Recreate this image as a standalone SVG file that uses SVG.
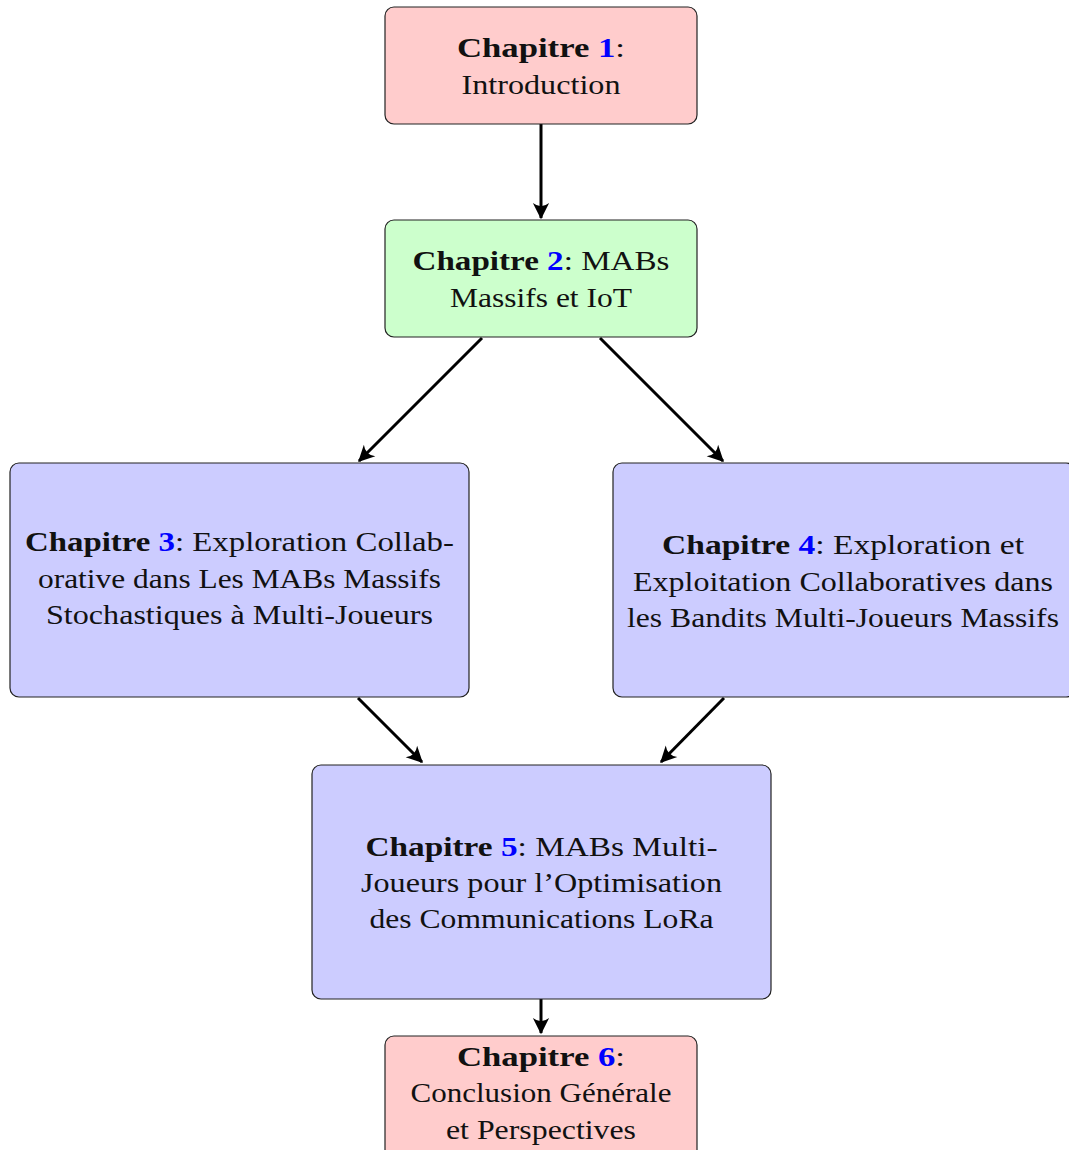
<svg xmlns="http://www.w3.org/2000/svg" width="1069" height="1150" viewBox="0 0 1069 1150">
<style>
.box{stroke:#222;stroke-width:1.2}
.red{fill:#ffcccc}.green{fill:#ccffcc}.blue{fill:#ccccff}
text{font-family:"Liberation Serif","Times New Roman",serif;font-size:28px;fill:#111;text-anchor:middle}
.b{font-weight:bold}.n{font-weight:bold;fill:#0000ff}
.edge{stroke:#000;stroke-width:3;fill:none;marker-end:url(#ah)}
</style>
<defs>
<marker id="ah" markerUnits="userSpaceOnUse" markerWidth="20" markerHeight="20" viewBox="-14 -8 16 16" refX="0" refY="0" orient="auto">
<path d="M1,0 L-12,-6.5 Q-7,0 -12,6.5 Z" fill="#000"/>
</marker>
</defs>
<g id="connectors">
<line class="edge" x1="541" y1="124" x2="541" y2="218"/>
<line class="edge" x1="482" y1="338" x2="359" y2="461"/>
<line class="edge" x1="600" y1="338" x2="723" y2="461"/>
<line class="edge" x1="358" y1="698" x2="422" y2="762"/>
<line class="edge" x1="724" y1="698" x2="661" y2="762"/>
<line class="edge" x1="541" y1="999" x2="541" y2="1033"/>
</g>
<g id="n1">
<rect class="box red" x="385" y="7" width="312" height="117" rx="9"/>
<text x="541" y="57" textLength="168" lengthAdjust="spacingAndGlyphs"><tspan class="b">Chapitre  </tspan><tspan class="n">1</tspan>:</text>
<text x="541" y="94" textLength="159" lengthAdjust="spacingAndGlyphs">Introduction</text>
</g>
<g id="n2">
<rect class="box green" x="385" y="220" width="312" height="117" rx="9"/>
<text x="541" y="270" textLength="257" lengthAdjust="spacingAndGlyphs"><tspan class="b">Chapitre </tspan><tspan class="n">2</tspan>: MABs</text>
<text x="541" y="307" textLength="182" lengthAdjust="spacingAndGlyphs">Massifs et IoT</text>
</g>
<g id="n3">
<rect class="box blue" x="10" y="463" width="459" height="234" rx="9"/>
<text x="239.5" y="551" textLength="429" lengthAdjust="spacingAndGlyphs"><tspan class="b">Chapitre </tspan><tspan class="n">3</tspan>: Exploration Collab-</text>
<text x="239.5" y="588" textLength="403" lengthAdjust="spacingAndGlyphs">orative dans Les MABs Massifs</text>
<text x="239.5" y="624" textLength="387" lengthAdjust="spacingAndGlyphs">Stochastiques à Multi-Joueurs</text>
</g>
<g id="n4">
<rect class="box blue" x="613" y="463" width="462" height="234" rx="9"/>
<text x="843" y="554" textLength="362" lengthAdjust="spacingAndGlyphs"><tspan class="b">Chapitre </tspan><tspan class="n">4</tspan>: Exploration et</text>
<text x="843" y="591" textLength="420" lengthAdjust="spacingAndGlyphs">Exploitation Collaboratives dans</text>
<text x="843" y="627" textLength="432" lengthAdjust="spacingAndGlyphs">les Bandits Multi-Joueurs Massifs</text>
</g>
<g id="n5">
<rect class="box blue" x="312" y="765" width="459" height="234" rx="9"/>
<text x="541.5" y="856" textLength="352" lengthAdjust="spacingAndGlyphs"><tspan class="b">Chapitre </tspan><tspan class="n">5</tspan>: MABs Multi-</text>
<text x="541.5" y="892" textLength="361" lengthAdjust="spacingAndGlyphs">Joueurs pour l’Optimisation</text>
<text x="541.5" y="928" textLength="344" lengthAdjust="spacingAndGlyphs">des Communications LoRa</text>
</g>
<g id="n6">
<rect class="box red" x="385" y="1036" width="312" height="130" rx="9"/>
<text x="541" y="1066" textLength="168" lengthAdjust="spacingAndGlyphs"><tspan class="b">Chapitre  </tspan><tspan class="n">6</tspan>:</text>
<text x="541" y="1102" textLength="261" lengthAdjust="spacingAndGlyphs">Conclusion Générale</text>
<text x="541" y="1139" textLength="190" lengthAdjust="spacingAndGlyphs">et Perspectives</text>
</g>
</svg>
